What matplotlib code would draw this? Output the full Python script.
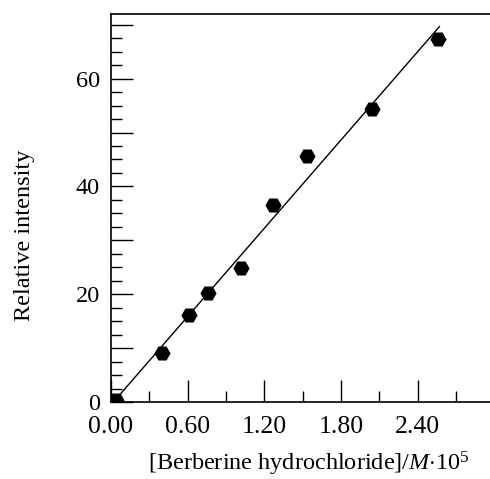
import numpy as np
import matplotlib
matplotlib.use("Agg")
import matplotlib.pyplot as plt
from matplotlib.ticker import FixedLocator, MultipleLocator, FuncFormatter

plt.rcParams['font.family'] = ['Liberation Serif', 'DejaVu Serif']
plt.rcParams['mathtext.fontset'] = 'custom'
plt.rcParams['mathtext.rm'] = 'Liberation Serif'
plt.rcParams['mathtext.it'] = 'Liberation Serif:italic'

# concentration (x 10^5 M) and relative intensity
conc = [0.04, 0.40, 0.61, 0.76, 1.02, 1.27, 1.535, 2.04, 2.556]
intensity = [0.4, 9.0, 16.1, 20.3, 24.9, 36.5, 45.7, 54.4, 67.3]
fit_range = [0.04, 2.57]

x_major = [0.0, 0.6, 1.2, 1.8, 2.4]
y_major = [0, 10, 20, 30, 40, 50, 60, 70]

slope, icept = np.polyfit(conc, intensity, 1)
fx = np.array(fit_range)

fig = plt.figure(figsize=(4.9, 4.79), dpi=100)
ax = fig.add_axes([0.2265, 0.1608, 0.7824, 0.810])

ax.plot(fx, slope * fx + icept, color='black', lw=1.0)
ax.plot(conc, intensity, 'H', color='black', markersize=10.5, zorder=3)

ax.set_xlim(0, 3.0)
ax.set_ylim(0, 72)

ax.xaxis.set_major_locator(FixedLocator(x_major))
ax.xaxis.set_minor_locator(MultipleLocator(0.3))
ax.xaxis.set_major_formatter(FuncFormatter(lambda v, p: f"{v:.2f}"))
ax.yaxis.set_major_locator(FixedLocator(y_major))
ax.yaxis.set_minor_locator(MultipleLocator(2.5))
ax.yaxis.set_major_formatter(
    FuncFormatter(lambda v, p: f"{int(round(v))}" if round(v) % 20 == 0 else ""))

ax.tick_params(which='both', direction='in', top=False, right=False, width=1.0)
ax.tick_params(which='major', length=16)
ax.tick_params(which='minor', length=8)
ax.tick_params(axis='x', which='major', pad=10, labelsize=18.5)
ax.tick_params(axis='y', which='major', pad=8, labelsize=17.5)

ax.spines['right'].set_visible(False)
for s in ['left', 'bottom', 'top']:
    ax.spines[s].set_linewidth(1.2)

ax.set_xlabel("[Berberine hydrochloride]/$M$$\\cdot$10$^5$", fontsize=17.5,
              va='center')
ax.set_ylabel("Relative intensity", fontsize=17.5, va='center')
ax.xaxis.set_label_coords(0.517, -0.16)
ax.yaxis.set_label_coords(-0.226, 0.43)

fig.savefig("out.png", dpi=100)
